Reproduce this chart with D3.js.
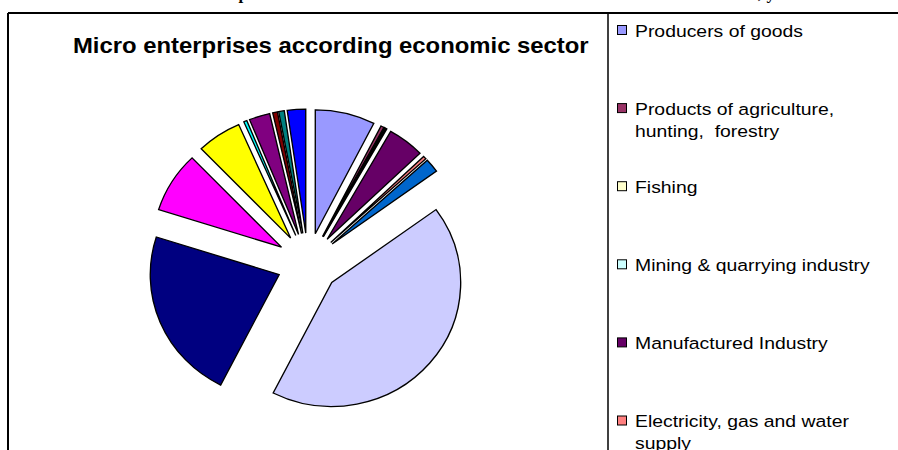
<!DOCTYPE html>
<html lang="en">
<head>
<meta charset="UTF-8">
<title>Micro enterprises according economic sector</title>
<script src="https://d3js.org/d3.v7.min.js"></script>
<style>
  body { margin: 0; background: #fff; }
  svg { display: block; }
</style>
</head>
<body>
<svg></svg>
<script>
    const width = 898, height = 450;

    // sectors, in the order Excel draws them (clockwise from 12 o'clock)
    const sectors = [
        ["Producers of goods"],
        ["Products of agriculture,", "hunting,  forestry"],
        ["Fishing"],
        ["Mining & quarrying industry"],
        ["Manufactured Industry"],
        ["Electricity, gas and water", "supply"],
        ["Construction"],
        ["Producers of services"],
        ["Wholesale and retail trade"],
        ["Hotels and restaurants"],
        ["Transport, storage and", "communication"],
        ["Financial intermediation"],
        ["Real estate, renting and", "business activities"],
        ["Public administration"],
        ["Education"],
        ["Health and social work"]
    ];
    // share of micro enterprises, %
    const shares = [7.5, 0.4, 0.15, 0.15, 4.6, 0.4, 1.8, 42.5,
                    22.4, 7.9, 5.6, 0.4, 2.6, 0.6, 0.7, 2.3];
    const colors = ["#9999FF", "#993366", "#FFFFCC", "#CCFFFF", "#660066", "#FF8080",
                    "#0066CC", "#CCCCFF", "#000080", "#FF00FF", "#FFFF00", "#00FFFF",
                    "#800080", "#800000", "#008080", "#0000FF"];

    const title = "Micro enterprises according economic sector";

    const svg = d3.select("svg")
        .attr("width", width)
        .attr("height", height)
        .attr("font-family", "Liberation Sans, Arial, sans-serif");

    // page caption cut off at the top of the screenshot
    svg.append("text")
        .attr("x", 62)
        .attr("y", -1)
        .attr("font-family", "Liberation Serif, Times New Roman, serif")
        .attr("font-weight", "bold")
        .attr("font-size", 17)
        .text("Structure of micro enterprises in the Federation of BiH classified on the basis of economic sector, year 2005");

    // frame
    const frame = svg.append("g").attr("stroke", "#000").attr("stroke-width", 2);
    frame.append("line").attr("x1", 8).attr("x2", width).attr("y1", 13).attr("y2", 13);
    frame.append("line").attr("x1", 8).attr("x2", 8).attr("y1", 13).attr("y2", height);
    frame.append("line").attr("x1", 608).attr("x2", 608).attr("y1", 13).attr("y2", height)
        .attr("stroke-width", 1.5);

    svg.append("text")
        .attr("transform", "translate(73,53) scale(1.085,1)")
        .attr("font-weight", "bold")
        .attr("font-size", 22)
        .text(title);

    // pie
    const r = 124, explode = 30;
    const pie = d3.pie().sort(null).value(d => d)(shares);
    const arc = d3.arc().innerRadius(0).outerRadius(r);

    const g = svg.append("g")
        .attr("transform", "translate(308,263) scale(1.04,1)");

    g.selectAll("path")
        .data(pie)
        .join("path")
        .attr("transform", d => {
            const a = (d.startAngle + d.endAngle) / 2;
            return `translate(${Math.sin(a) * explode},${-Math.cos(a) * explode})`;
        })
        .attr("d", arc)
        .attr("fill", (d, i) => colors[i])
        .attr("stroke", "#000")
        .attr("stroke-width", 1.3)
        .attr("stroke-linejoin", "miter");

    // legend
    const y = d3.scaleLinear().domain([0, 1]).range([25, 103.1]);

    const item = svg.append("g")
        .selectAll("g")
        .data(sectors)
        .join("g")
        .attr("transform", (d, i) => `translate(0,${y(i)})`);

    item.append("rect")
        .attr("x", 617.5)
        .attr("y", 0.5)
        .attr("width", 9)
        .attr("height", 9)
        .attr("fill", (d, i) => colors[i])
        .attr("stroke", "#000")
        .attr("stroke-width", 1);

    item.append("text")
        .attr("transform", "translate(635,11.5) scale(1.14,1)")
        .attr("font-size", 17)
        .attr("xml:space", "preserve")
        .selectAll("tspan")
        .data(d => d)
        .join("tspan")
        .attr("x", 0)
        .attr("y", (d, i) => i * 22)
        .text(d => d);
</script>
</body>
</html>
